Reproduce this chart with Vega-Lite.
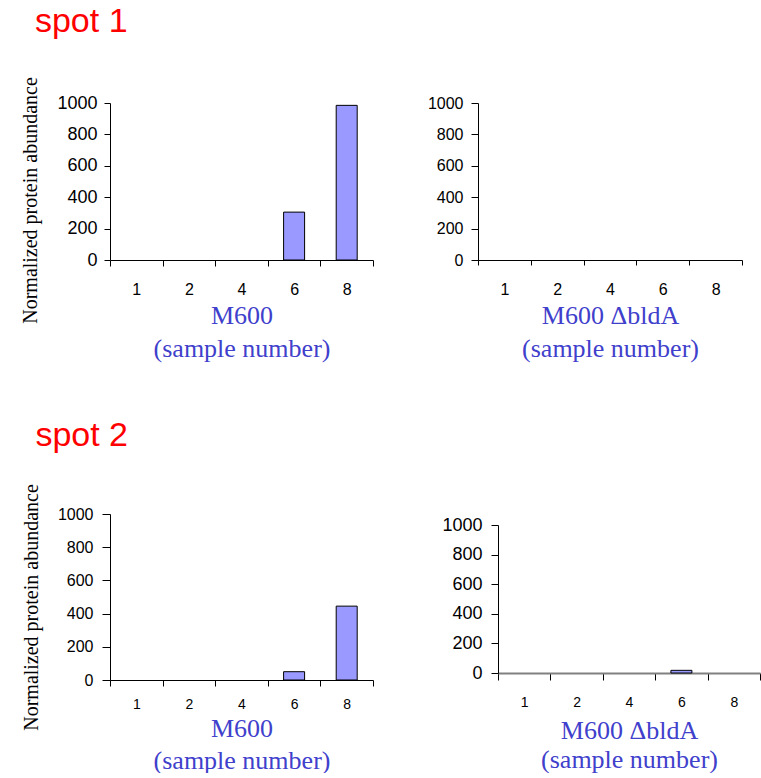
{
  "$schema": "https://vega.github.io/schema/vega-lite/v6.json",
  "background": "white",
  "padding": {"left": 20, "top": 4, "right": 0, "bottom": 0},
  "config": {
    "view": {"stroke": null},
    "axis": {"grid": false, "domainColor": "black", "tickColor": "black", "labelColor": "black", "labelFont": "Liberation Sans", "format": "d"},
    "title": {"font": "Liberation Sans", "fontSize": 34, "fontWeight": "normal", "color": "#ff0000", "anchor": "start"}
  },
  "datasets": {
    "s1_m600": [
      {"sample": 1, "value": 0}, {"sample": 2, "value": 0}, {"sample": 4, "value": 0},
      {"sample": 6, "value": 305}, {"sample": 8, "value": 985}
    ],
    "s1_bldA": [
      {"sample": 1, "value": 0}, {"sample": 2, "value": 0}, {"sample": 4, "value": 0},
      {"sample": 6, "value": 0}, {"sample": 8, "value": 0}
    ],
    "s2_m600": [
      {"sample": 1, "value": 0}, {"sample": 2, "value": 0}, {"sample": 4, "value": 0},
      {"sample": 6, "value": 50}, {"sample": 8, "value": 445}
    ],
    "s2_bldA": [
      {"sample": 1, "value": 0}, {"sample": 2, "value": 0}, {"sample": 4, "value": 0},
      {"sample": 6, "value": 18}, {"sample": 8, "value": 0}
    ]
  },
  "align": "none",
  "spacing": 57,
  "vconcat": [
    {
      "title": {"text": "spot 1", "dx": 14, "offset": 38},
      "align": "none",
      "spacing": 53,
      "hconcat": [
        {
          "width": 263, "height": 157,
          "data": {"name": "s1_m600"},
          "mark": {"type": "bar", "fill": "#9999ff", "stroke": "black", "width": 21},
          "encoding": {
            "x": {"field": "sample", "type": "ordinal", "scale": {"paddingInner": 0, "paddingOuter": 0},
              "axis": {"tickBand": "extent", "labelAngle": 0, "labelFontSize": 16, "labelPadding": 15, "tickSize": 6,
                "title": ["M600", "(sample number)"], "titleFont": "Liberation Serif", "titleFontSize": 26, "titleFontWeight": "normal", "titleColor": "#4040cc", "titleLineHeight": 33, "titlePadding": 5}},
            "y": {"field": "value", "type": "quantitative", "scale": {"domain": [0, 1000]},
              "axis": {"values": [0, 200, 400, 600, 800, 1000], "labelFontSize": 18, "labelPadding": 7, "tickSize": 6,
                "title": "Normalized protein abundance", "titleFont": "Liberation Serif", "titleFontSize": 20, "titleFontWeight": "normal", "titleColor": "black", "titlePadding": 16, "titleY": 97}},
            "strokeWidth": {"condition": {"test": "datum.value === 0", "value": 0}, "value": 1}
          }
        },
        {
          "width": 264, "height": 157,
          "data": {"name": "s1_bldA"},
          "mark": {"type": "bar", "fill": "#9999ff", "stroke": "black", "width": 21},
          "encoding": {
            "x": {"field": "sample", "type": "ordinal", "scale": {"paddingInner": 0, "paddingOuter": 0},
              "axis": {"tickBand": "extent", "labelAngle": 0, "labelFontSize": 16, "labelPadding": 16, "tickSize": 5,
                "title": ["M600 ΔbldA", "(sample number)"], "titleFont": "Liberation Serif", "titleFontSize": 26, "titleFontWeight": "normal", "titleColor": "#4040cc", "titleLineHeight": 33, "titlePadding": 5}},
            "y": {"field": "value", "type": "quantitative", "scale": {"domain": [0, 1000]},
              "axis": {"values": [0, 200, 400, 600, 800, 1000], "labelFontSize": 16, "labelPadding": 8, "tickSize": 7, "title": null}},
            "strokeWidth": {"condition": {"test": "datum.value === 0", "value": 0}, "value": 1}
          }
        }
      ]
    },
    {
      "title": {"text": "spot 2", "dx": 14, "offset": 31},
      "align": "none",
      "spacing": 67,
      "hconcat": [
        {
          "width": 263, "height": 166,
          "data": {"name": "s2_m600"},
          "mark": {"type": "bar", "fill": "#9999ff", "stroke": "black", "width": 21},
          "encoding": {
            "x": {"field": "sample", "type": "ordinal", "scale": {"paddingInner": 0, "paddingOuter": 0},
              "axis": {"tickBand": "extent", "labelAngle": 0, "labelFontSize": 14, "labelPadding": 11, "tickSize": 6,
                "title": ["M600", "(sample number)"], "titleFont": "Liberation Serif", "titleFontSize": 26, "titleFontWeight": "normal", "titleColor": "#4040cc", "titleLineHeight": 32, "titlePadding": 4}},
            "y": {"field": "value", "type": "quantitative", "scale": {"domain": [0, 1000]},
              "axis": {"values": [0, 200, 400, 600, 800, 1000], "labelFontSize": 16, "labelPadding": 9, "tickSize": 8,
                "title": "Normalized protein abundance", "titleFont": "Liberation Serif", "titleFontSize": 20, "titleFontWeight": "normal", "titleColor": "black", "titlePadding": 16, "titleY": 93}},
            "strokeWidth": {"condition": {"test": "datum.value === 0", "value": 0}, "value": 1}
          }
        },
        {
          "align": "none",
          "spacing": 1,
          "vconcat": [
            {
              "width": 262, "height": 1,
              "data": {"values": []},
              "mark": "point"
            },
            {
              "width": 262, "height": 148,
              "data": {"name": "s2_bldA"},
              "mark": {"type": "bar", "fill": "#9999ff", "stroke": "black", "width": 21},
              "encoding": {
                "x": {"field": "sample", "type": "ordinal", "scale": {"paddingInner": 0, "paddingOuter": 0},
                  "axis": {"tickBand": "extent", "labelAngle": 0, "labelFont": "Liberation Sans Narrow, Liberation Sans", "labelFontSize": 14, "labelPadding": 15, "tickSize": 7, "domainColor": "#808080", "domainWidth": 2,
                    "title": ["M600 ΔbldA", "(sample number)"], "titleFont": "Liberation Serif", "titleFontSize": 26, "titleFontWeight": "normal", "titleColor": "#4040cc", "titleLineHeight": 29, "titlePadding": 8}},
                "y": {"field": "value", "type": "quantitative", "scale": {"domain": [0, 1000]},
                  "axis": {"values": [0, 200, 400, 600, 800, 1000], "labelFont": "Liberation Sans Narrow, Liberation Sans", "labelFontSize": 18, "labelPadding": 9, "tickSize": 7, "title": null}},
                "strokeWidth": {"condition": {"test": "datum.value === 0", "value": 0}, "value": 1}
              }
            }
          ]
        }
      ]
    }
  ]
}
